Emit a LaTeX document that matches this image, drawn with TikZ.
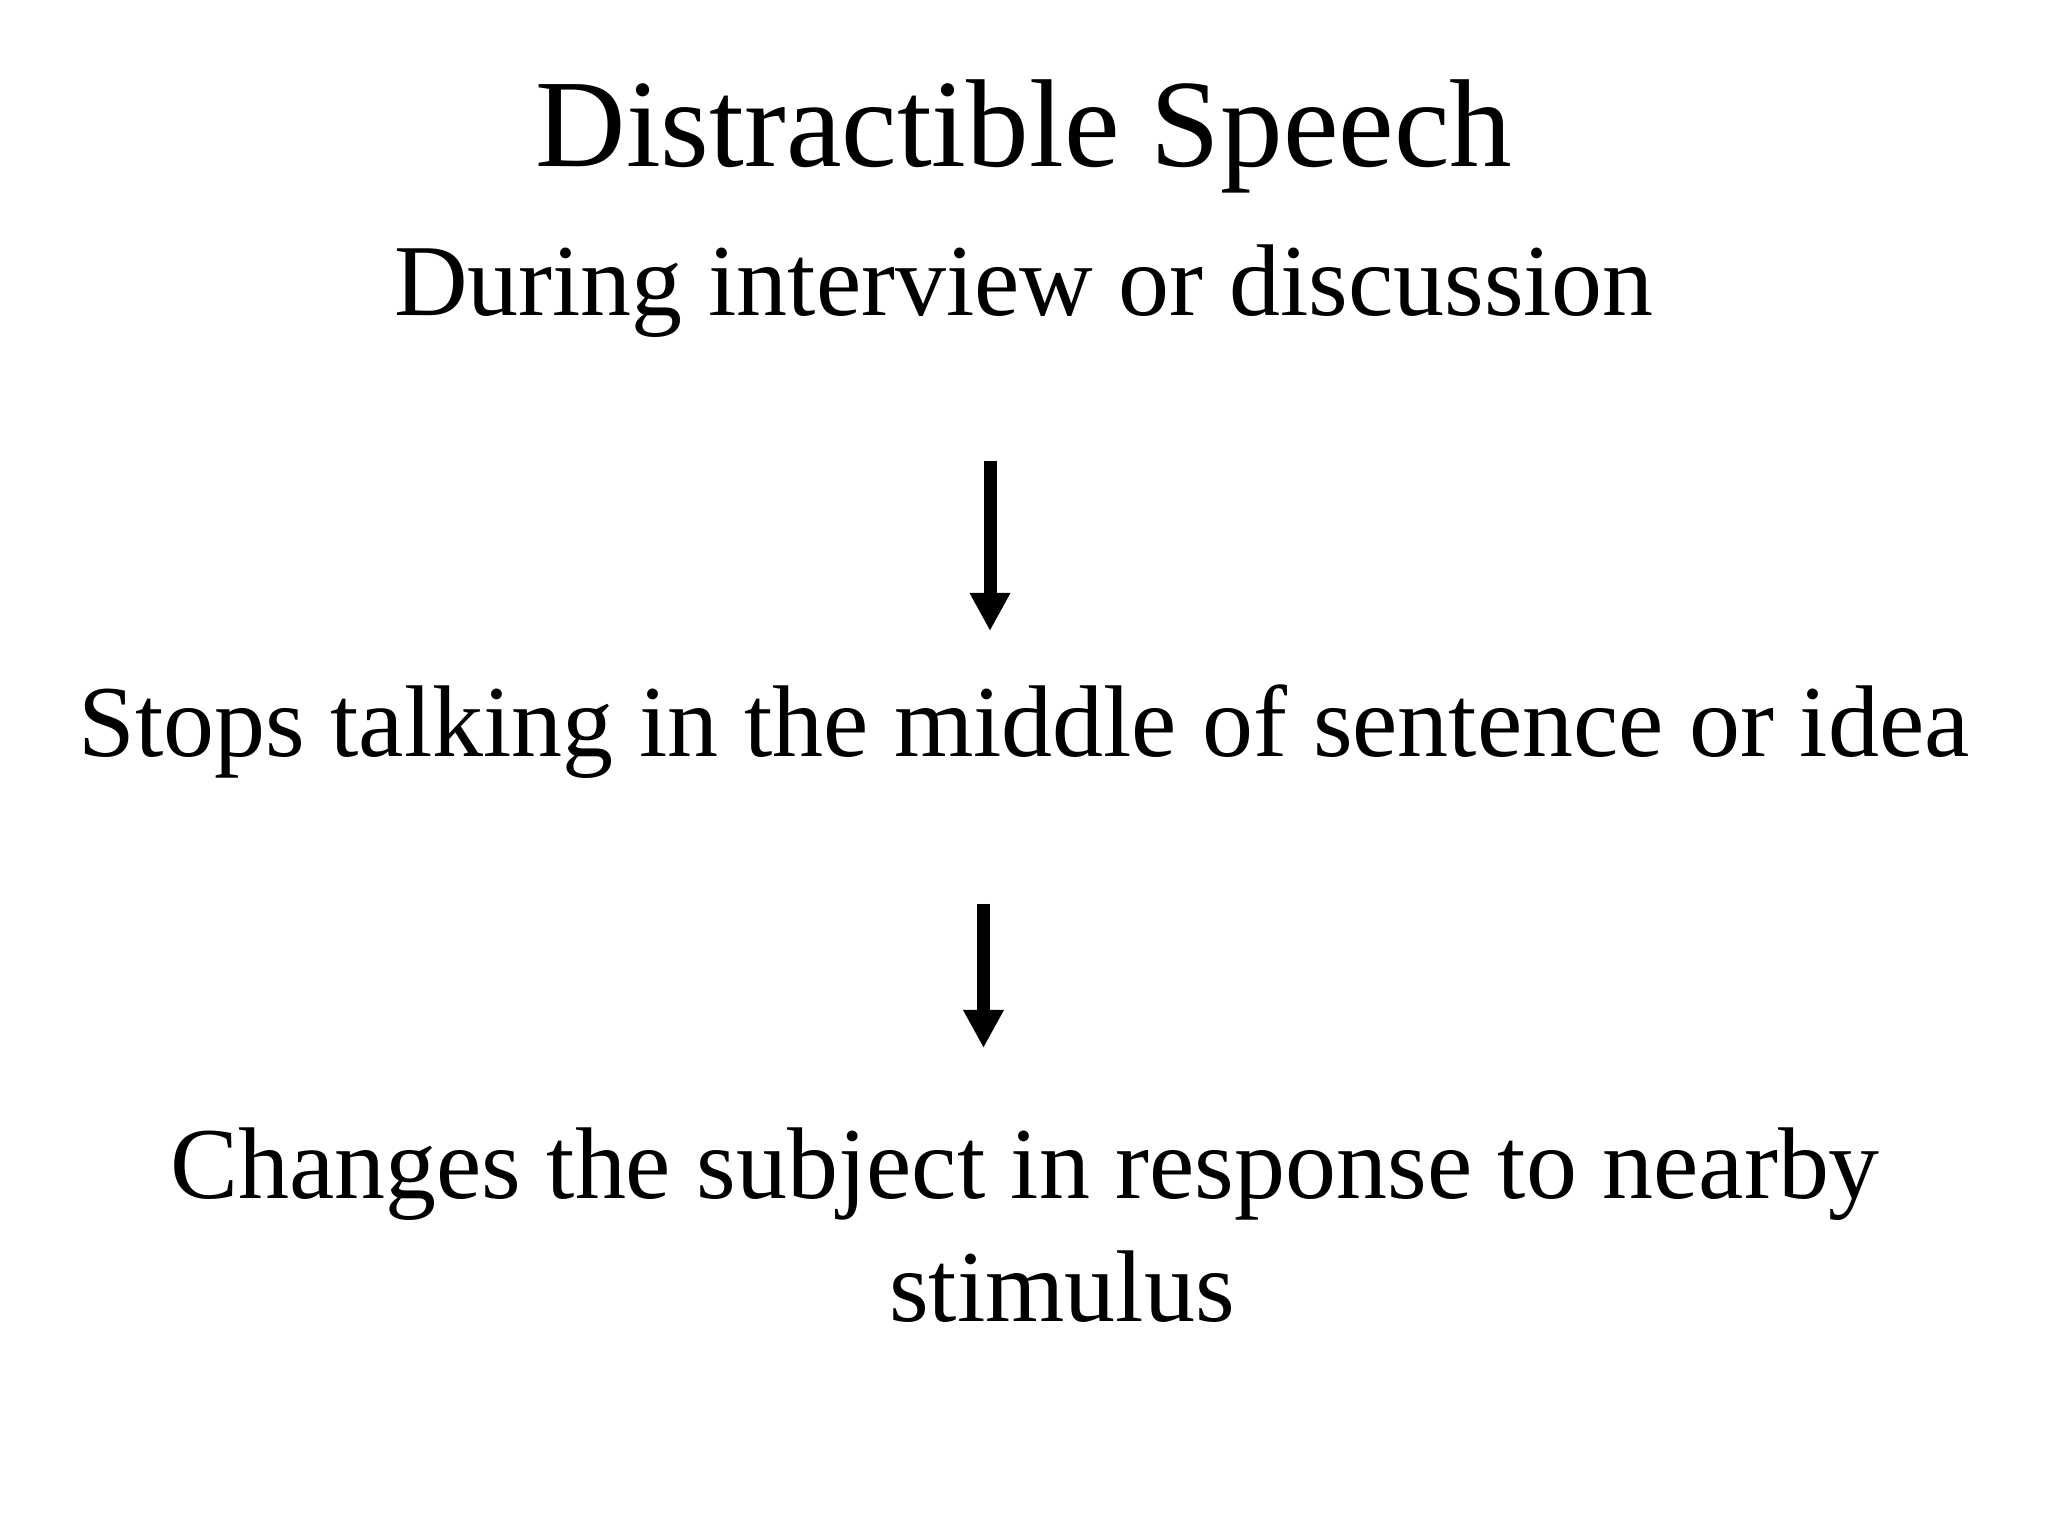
\documentclass[tikz,border=0pt]{standalone}
\usepackage{fontspec}
\setmainfont{Liberation Serif}
\usetikzlibrary{arrows.meta}
\begin{document}
\begin{tikzpicture}[
  titletext/.style={anchor=base, inner sep=0pt, font=\fontsize{35.6}{42}\selectfont},
  bodytext/.style={anchor=base, inner sep=0pt, font=\fontsize{29}{35}\selectfont},
  flowarrow/.style={line width=0.13cm, -{Triangle[width=0.38cm,length=0.38cm]}}
]
\useasboundingbox[fill=white] (0,0) rectangle (20.48,15.36);
\node[titletext] (title) at (10.24,13.69) {Distractible Speech};
\node[bodytext] (during) at (10.24,12.20) {During interview or discussion};
\node[bodytext] (stops) at (10.24,7.79) {Stops talking in the middle of sentence or idea};
\node[bodytext] (changes) at (10.25,3.37) {Changes the subject in response to nearby};
\node[bodytext] (stim) at (10.62,2.14) {stimulus};
\coordinate (a1s) at (9.90,10.75);
\coordinate (a1e) at (9.90,9.05);
\coordinate (a2s) at (9.835,6.32);
\coordinate (a2e) at (9.835,4.88);
\draw[flowarrow] (a1s) -- (a1e);
\draw[flowarrow] (a2s) -- (a2e);
\end{tikzpicture}
\end{document}
